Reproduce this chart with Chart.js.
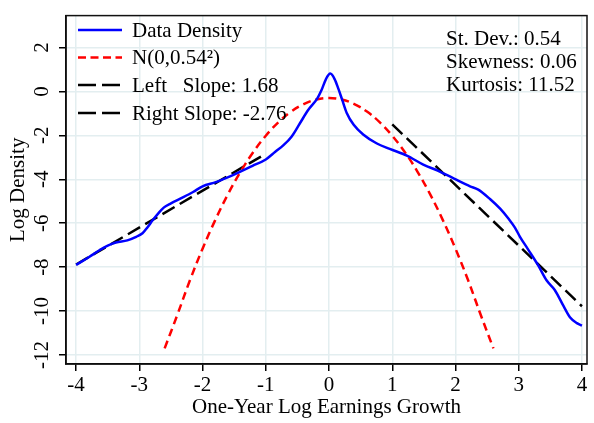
<!DOCTYPE html>
<html>
<head>
<meta charset="utf-8">
<title>Log Density of One-Year Log Earnings Growth</title>
<script src="https://cdn.jsdelivr.net/npm/chart.js@4.4.0/dist/chart.umd.min.js"></script>
<style>
  html, body { margin: 0; padding: 0; background: #fff; }
  canvas { display: block; }
</style>
</head>
<body>
<canvas id="densityChart" width="594" height="423"></canvas>
<script>
// empirical log density
const densityX = [-4.0, -3.8, -3.63, -3.5, -3.37, -3.19, -3.05, -2.95, -2.87, -2.79, -2.7, -2.61, -2.5, -2.32, -2.15, -2.0,
    -1.79, -1.52, -1.21, -1.0, -0.85, -0.72, -0.59, -0.46, -0.33, -0.19, -0.12, -0.05, 0.02, 0.09, 0.15, 0.21, 0.28, 0.39,
    0.54, 0.75, 0.96, 1.23, 1.49, 1.76, 2.02, 2.23, 2.36, 2.55, 2.71, 2.84, 2.94, 3.02, 3.15, 3.31, 3.44, 3.57, 3.71,
    3.81, 3.92, 4.0];
const densityY = [-7.9, -7.55, -7.23, -7.02, -6.88, -6.78, -6.62, -6.46, -6.18, -5.87, -5.55, -5.28, -5.1, -4.84, -4.58, -4.32,
    -4.13, -3.81, -3.39, -3.1, -2.75, -2.45, -2.05, -1.45, -0.85, -0.34, 0.05, 0.55, 0.81, 0.55, 0.1, -0.4, -0.98, -1.52,
    -1.96, -2.36, -2.62, -2.92, -3.33, -3.66, -4.03, -4.32, -4.47, -4.91, -5.35, -5.8, -6.2, -6.62, -7.2, -7.93, -8.6, -9.04, -9.78,
    -10.28, -10.55, -10.66];

// normal benchmark
const normalX = [-2.6, -2.4, -2.2, -2.0, -1.8, -1.6, -1.4, -1.2, -1.0, -0.8, -0.6, -0.4, -0.2, 0,
    0.2, 0.4, 0.6, 0.8, 1.0, 1.2, 1.4, 1.6, 1.8, 2.0, 2.2, 2.4, 2.6];
const normalY = [-11.7, -10.18, -8.6, -7.16, -5.86, -4.69, -3.66, -2.77, -2.02, -1.4, -0.92, -0.58, -0.37, -0.3,
    -0.37, -0.58, -0.92, -1.4, -2.02, -2.77, -3.66, -4.69, -5.86, -7.16, -8.6, -10.18, -11.7];

// tail fits
const leftSlopeX = [-4, -1];
const leftSlopeY = [-7.88, -2.84];
const rightSlopeX = [1, 4];
const rightSlopeY = [-1.5, -9.78];

const xTicks = [-4, -3, -2, -1, 0, 1, 2, 3, 4];
const yTicks = [-12, -10, -8, -6, -4, -2, 0, 2];

const seriesLabels = ['Data Density', 'N(0,0.54\u00b2)', 'Left   Slope: 1.68', 'Right Slope: -2.76'];
const statLines = ['St. Dev.: 0.54', 'Skewness: 0.06', 'Kurtosis: 11.52'];

const serif = "'Liberation Serif', 'Times New Roman', serif";
const fontSize = 21;
const gridColor = '#e3eef0';

function pairs(xs, ys) {
    return xs.map((x, i) => ({ x: x, y: ys[i] }));
}

const datasets = [
    {
        label: seriesLabels[0],
        data: pairs(densityX, densityY),
        borderColor: '#0000ff',
        borderWidth: 2.5,
        cubicInterpolationMode: 'monotone',
        legendDash: []
    },
    {
        label: seriesLabels[1],
        data: pairs(normalX, normalY),
        borderColor: '#ff0000',
        borderWidth: 2.5,
        borderDash: [8, 5],
        tension: 0.4,
        legendDash: [8, 4.5]
    },
    {
        label: seriesLabels[2],
        data: pairs(leftSlopeX, leftSlopeY),
        borderColor: '#000000',
        borderWidth: 2.5,
        borderDash: [14, 6],
        legendDash: [18, 6]
    },
    {
        label: seriesLabels[3],
        data: pairs(rightSlopeX, rightSlopeY),
        borderColor: '#000000',
        borderWidth: 2.5,
        borderDash: [14, 6],
        legendDash: [18, 6]
    }
];

// frame, legend and summary stats drawn on top of the plot
const overlay = {
    id: 'overlay',
    afterDraw(chart) {
        const ctx = chart.ctx;
        const area = chart.chartArea;
        ctx.save();

        ctx.strokeStyle = '#111';
        ctx.lineWidth = 1.5;
        ctx.strokeRect(area.left, area.top, area.right - area.left, area.bottom - area.top);

        ctx.font = fontSize + 'px ' + serif;
        ctx.fillStyle = '#000';
        ctx.textBaseline = 'middle';
        ctx.textAlign = 'left';

        const rows = [30, 57.5, 85, 113];
        chart.data.datasets.forEach((ds, i) => {
            const y = rows[i];
            ctx.beginPath();
            ctx.setLineDash(ds.legendDash);
            ctx.strokeStyle = ds.borderColor;
            ctx.lineWidth = 2.5;
            ctx.moveTo(area.left + 12, y);
            ctx.lineTo(area.left + 56, y);
            ctx.stroke();
            ctx.setLineDash([]);
            ctx.fillText(ds.label, area.left + 66, y + 1);
        });

        statLines.forEach((t, i) => {
            ctx.fillText(t, area.left + 380, 39 + i * 23);
        });
        ctx.restore();
    }
};

const config = {
    type: 'line',
    data: { datasets: datasets },
    options: {
        responsive: false,
        animation: false,
        devicePixelRatio: 1,
        elements: { point: { radius: 0 } },
        layout: { padding: { top: 6, right: 7, left: 0, bottom: 0 } },
        plugins: {
            legend: { display: false },
            tooltip: { enabled: false }
        },
        scales: {
            x: {
                type: 'linear',
                min: -4.16,
                max: 4.08,
                afterBuildTicks: s => { s.ticks = xTicks.map(v => ({ value: v })); },
                afterFit: s => { s.height = 59; },
                ticks: {
                    color: '#000',
                    font: { family: serif, size: fontSize },
                    padding: 2,
                    maxRotation: 0
                },
                grid: { color: gridColor, lineWidth: 1.5, tickColor: '#000', tickLength: 7, tickWidth: 1.5 },
                border: { color: '#000', width: 1.5 },
                title: {
                    display: true,
                    text: 'One-Year Log Earnings Growth',
                    color: '#000',
                    font: { family: serif, size: fontSize },
                    padding: { top: 0, bottom: 3 }
                }
            },
            y: {
                type: 'linear',
                min: -12.41,
                max: 3.45,
                afterBuildTicks: s => { s.ticks = yTicks.map(v => ({ value: v })); },
                afterFit: s => { s.width = 66; },
                ticks: {
                    color: '#000',
                    font: { family: serif, size: fontSize },
                    padding: 3,
                    minRotation: 90,
                    maxRotation: 90,
                    crossAlign: 'center'
                },
                grid: { color: gridColor, lineWidth: 1.5, tickColor: '#000', tickLength: 7, tickWidth: 1.5 },
                border: { color: '#000', width: 1.5 },
                title: {
                    display: true,
                    text: 'Log Density',
                    color: '#000',
                    font: { family: serif, size: fontSize },
                    padding: { top: 6, bottom: 0 }
                }
            }
        }
    },
    plugins: [overlay]
};

const densityChart = new Chart(document.getElementById('densityChart'), config);
</script>
</body>
</html>
